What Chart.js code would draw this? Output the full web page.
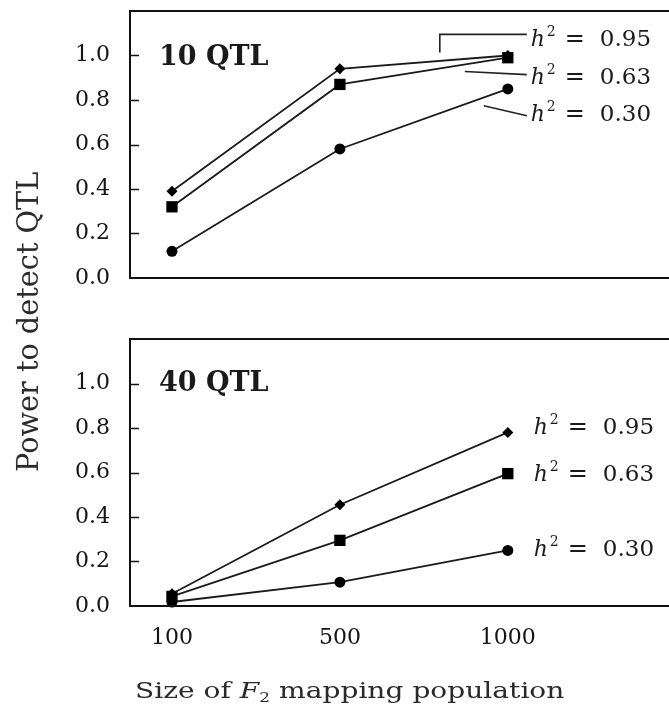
<!DOCTYPE html>
<html><head><meta charset="utf-8">
<script src="https://cdn.jsdelivr.net/npm/chart.js@4.4.1/dist/chart.umd.min.js"></script>
<style>
html,body{margin:0;padding:0;background:#fff;width:669px;height:706px;overflow:hidden;position:relative;font-family:"DejaVu Serif",serif;}
#c1{position:absolute;left:0;top:0;}
#c2{position:absolute;left:0;top:310px;}
.t{position:absolute;white-space:nowrap;color:#2a2a2a;left:0;top:0;transform-origin:0 0;}
#ytitle{font-size:27px;}
#xtitle{font-size:23px;}
#xtitle sub{font-size:60%;vertical-align:-4px;line-height:0;}
</style></head><body>
<canvas id="c1" width="669" height="300"></canvas>
<canvas id="c2" width="669" height="370"></canvas>
<div id="ytitle" class="t">Power to detect QTL</div>
<div id="xtitle" class="t">Size of <i>F</i><sub>2</sub> mapping population</div>
<script>
// ---- data ----
const categories = ['100', '500', '1000'];
const heritability = ['0.95', '0.63', '0.30'];
const yTicks = [0, 0.2, 0.4, 0.6, 0.8, 1.0];
const qtl10_h95 = [0.39, 0.94, 1.00];
const qtl10_h63 = [0.32, 0.87, 0.99];
const qtl10_h30 = [0.12, 0.58, 0.85];
const qtl40_h95 = [0.055, 0.455, 0.78];
const qtl40_h63 = [0.043, 0.295, 0.595];
const qtl40_h30 = [0.018, 0.107, 0.25];
const panelTitles = ['10 QTL', '40 QTL'];

const FONT = '"DejaVu Serif", serif';
const pointStyles = ['rectRot', 'rect', 'circle'];
const pointRadii = [5.5, 8, 5.5];

function drawH(ctx, x, yc, val) {
  const base = yc + 8;
  ctx.fillStyle = '#1a1a1a';
  ctx.textAlign = 'left';
  ctx.textBaseline = 'alphabetic';
  ctx.font = 'italic 22px ' + FONT;
  ctx.fillText('h', x, base);
  ctx.font = '14px ' + FONT;
  ctx.fillText('2', x + 16, base - 10);
  ctx.font = '24px ' + FONT;
  ctx.fillText('=', x + 34, base);
  ctx.font = '23px ' + FONT;
  ctx.fillText(val, x + 69, base);
}

function annotPlugin(cfg) {
  return {
    id: 'annot',
    afterDraw(chart) {
      const ctx = chart.ctx, a = chart.chartArea, xs = chart.scales.x, ys = chart.scales.y;
      ctx.save();
      // frame (top, left, bottom)
      ctx.strokeStyle = '#111';
      ctx.lineWidth = 2;
      ctx.beginPath();
      ctx.moveTo(chart.width + 5, a.top);
      ctx.lineTo(a.left, a.top);
      ctx.lineTo(a.left, a.bottom);
      ctx.lineTo(chart.width + 5, a.bottom);
      ctx.stroke();
      // inward ticks
      ctx.lineWidth = 1.5;
      yTicks.forEach(v => {
        if (v === 0) return;
        const py = Math.round(ys.getPixelForValue(v)) + 0.5;
        ctx.beginPath(); ctx.moveTo(a.left, py); ctx.lineTo(a.left + 9, py); ctx.stroke();
      });
      // panel title
      ctx.fillStyle = '#1a1a1a';
      ctx.font = 'bold 27px ' + FONT;
      ctx.textAlign = 'left';
      ctx.textBaseline = 'middle';
      ctx.fillText(cfg.title, a.left + 29, ys.getPixelForValue(cfg.titleY));
      // leaders
      const xe = xs.getPixelForValue(2);
      ctx.lineWidth = 1.6;
      ctx.strokeStyle = '#222';
      (cfg.leaders || []).forEach(L => {
        ctx.beginPath();
        L.forEach((p, i) => {
          const px = xe + p[0], py = ys.getPixelForValue(p[1]);
          if (i === 0) ctx.moveTo(px, py); else ctx.lineTo(px, py);
        });
        ctx.stroke();
      });
      // h^2 labels
      cfg.labelY.forEach((v, i) => drawH(ctx, xe + cfg.labelDx, ys.getPixelForValue(v), heritability[i]));
      ctx.restore();
    }
  };
}

function makeChart(id, series, cfg) {
  return new Chart(document.getElementById(id), {
    type: 'line',
    data: {
      datasets: series.map((s, i) => ({
        data: s.map((v, j) => ({ x: j, y: v })),
        borderColor: '#1a1a1a',
        borderWidth: 1.8,
        pointStyle: pointStyles[i],
        pointRadius: pointRadii[i],
        pointBackgroundColor: '#000',
        pointBorderColor: '#000',
        pointBorderWidth: 0,
        tension: 0,
        clip: false
      }))
    },
    options: {
      responsive: false,
      animation: false,
      devicePixelRatio: 1,
      layout: { autoPadding: false, padding: { top: cfg.padTop, right: 0, bottom: cfg.padBottom, left: 0 } },
      plugins: { legend: { display: false }, tooltip: { enabled: false } },
      scales: {
        x: {
          type: 'linear', min: -0.25, max: 2.96,
          display: cfg.showX,
          grid: { display: false, drawTicks: false },
          border: { display: false },
          ticks: {
            padding: 19,
            color: '#151515',
            font: { family: FONT, size: 22 },
            callback: v => categories[v]
          },
          afterBuildTicks: s => { s.ticks = categories.map((c, i) => ({ value: i })); },
          afterFit: s => { s.height = cfg.xHeight; s.paddingLeft = 0; s.paddingRight = 0; }
        },
        y: {
          min: 0, max: 1.2,
          grid: { display: false, drawTicks: false },
          border: { display: false },
          ticks: {
            padding: 20,
            color: '#151515',
            font: { family: FONT, size: 22 },
            callback: v => Number(v).toFixed(1)
          },
          afterBuildTicks: s => { s.ticks = yTicks.map(v => ({ value: v })); },
          afterFit: s => { s.width = 130; s.paddingTop = 0; s.paddingBottom = 0; }
        }
      }
    },
    plugins: [annotPlugin(cfg)]
  });
}

makeChart('c1', [qtl10_h95, qtl10_h63, qtl10_h30], {
  padTop: 11, padBottom: 22, showX: false, xHeight: 0,
  title: panelTitles[0], titleY: 0.99,
  labelDx: 23, labelY: [1.08, 0.91, 0.74],
  leaders: [
    [[-68, 1.014], [-68, 1.095], [19, 1.095]],
    [[-43, 0.928], [19, 0.914]],
    [[-24, 0.774], [19, 0.729]]
  ]
});
makeChart('c2', [qtl40_h95, qtl40_h63, qtl40_h30], {
  padTop: 29, padBottom: 0, showX: true, xHeight: 74,
  title: panelTitles[1], titleY: 1.0,
  labelDx: 26, labelY: [0.81, 0.60, 0.26],
  leaders: []
});

// fit titles
function fit(el, cx, cy, len, rot, thick) {
  const w = el.offsetWidth, h = el.offsetHeight;
  const sx = len / w;
  el.style.transform = `translate(${cx}px,${cy}px) rotate(${rot}deg) scale(${sx},${thick}) translate(${-w/2}px,${-h/2}px)`;
}
fit(document.getElementById('ytitle'), 27, 322, 300, -90, 1.1);
fit(document.getElementById('xtitle'), 350, 690, 430, 0, 1);
</script>
</body></html>
